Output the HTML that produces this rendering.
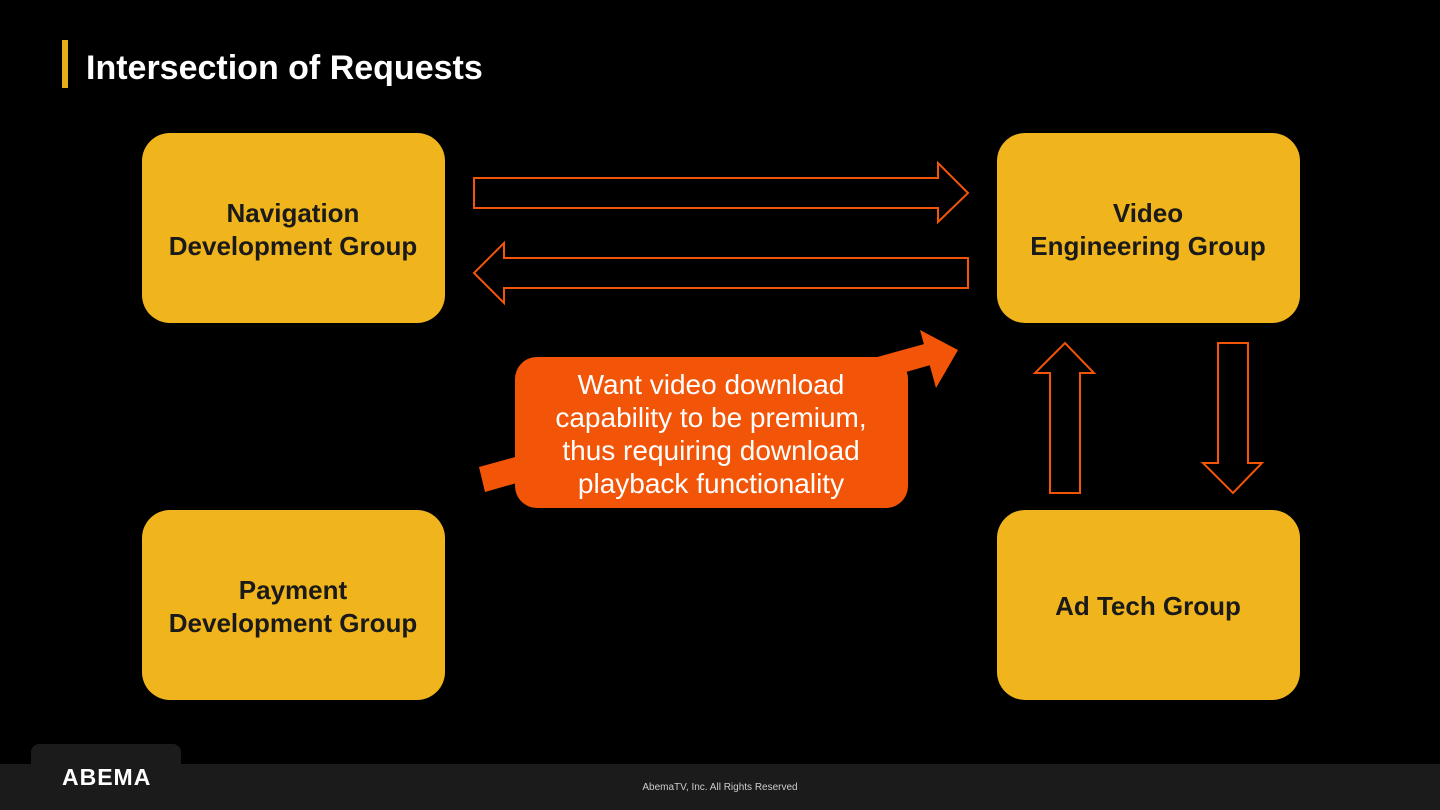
<!DOCTYPE html>
<html><head><meta charset="utf-8"><style>
html,body{margin:0;padding:0;background:#000;}
svg{display:block;}
text{font-family:"Liberation Sans",sans-serif;}
</style></head><body>
<svg width="1440" height="810" viewBox="0 0 1440 810" xmlns="http://www.w3.org/2000/svg">
<rect width="1440" height="810" fill="#000"/>
<rect x="62" y="40" width="6" height="48" fill="#E5AE17"/>
<text x="86" y="79" font-size="34" font-weight="bold" fill="#fff">Intersection of Requests</text>

<g fill="#F0B41C">
<rect x="142" y="133" width="303" height="190" rx="28"/>
<rect x="997" y="133" width="303" height="190" rx="28"/>
<rect x="142" y="510" width="303" height="190" rx="28"/>
<rect x="997" y="510" width="303" height="190" rx="28"/>
</g>
<g font-size="26" font-weight="bold" fill="#1a1a1a" text-anchor="middle">
<text x="293" y="222">Navigation</text>
<text x="293" y="255">Development Group</text>
<text x="1148" y="222">Video</text>
<text x="1148" y="255">Engineering Group</text>
<text x="293" y="599">Payment</text>
<text x="293" y="632">Development Group</text>
<text x="1148" y="615">Ad Tech Group</text>
</g>

<g fill="none" stroke="#F25507" stroke-width="2">
<polygon points="474,178 938,178 938,163 968,193 938,222 938,208 474,208"/>
<polygon points="968,258 504,258 504,243 474,273 504,303 504,288 968,288"/>
<polygon points="1050,493 1050,373 1035,373 1065,343 1094,373 1080,373 1080,493"/>
<polygon points="1218,343 1248,343 1248,463 1262,463 1233,493 1203,463 1218,463"/>
</g>

<g fill="#F25507">
<polygon points="479,467 928,343 934,364 485,492"/>
<polygon points="920,330 958,350 936,388"/>
<rect x="515" y="357" width="393" height="151" rx="22"/>
</g>
<g font-size="28" fill="#fff" text-anchor="middle">
<text x="711" y="394">Want video download</text>
<text x="711" y="427">capability to be premium,</text>
<text x="711" y="460">thus requiring download</text>
<text x="711" y="493">playback functionality</text>
</g>

<rect x="0" y="764" width="1440" height="46" fill="#1b1b1b"/>
<rect x="31" y="744" width="150" height="40" rx="8" fill="#1b1b1b"/>
<text x="62" y="785" font-size="23" font-weight="bold" fill="#fff" letter-spacing="1">ABEMA</text>
<text x="720" y="790" font-size="10" fill="#ccc" text-anchor="middle">AbemaTV, Inc. All Rights Reserved</text>
</svg>
</body></html>
